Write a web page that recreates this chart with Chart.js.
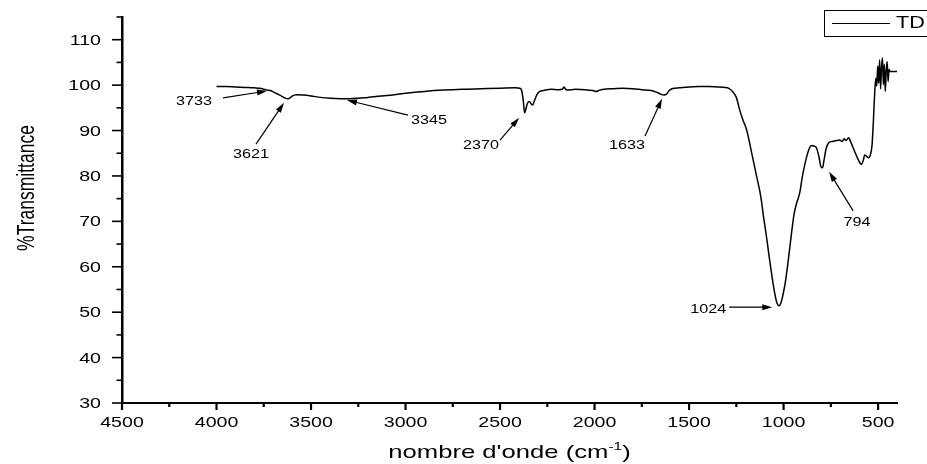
<!DOCTYPE html>
<html>
<head>
<meta charset="utf-8">
<script src="https://cdn.jsdelivr.net/npm/chart.js@4.4.0/dist/chart.umd.min.js"></script>
<style>
  body { margin: 0; background: #fff; }
  #spectre { display: block; }
</style>
</head>
<body>
<canvas id="spectre" width="927" height="464"></canvas>
<script>
// IR spectrum of TD, wavenumbers (cm-1) and % transmittance
const wavenumbers = [
  4000, 3950, 3900, 3850, 3800, 3770, 3750, 3733, 3715, 3700,
  3680, 3660, 3640, 3621, 3605, 3590, 3570, 3540, 3500, 3450,
  3400, 3345, 3300, 3250, 3200, 3100, 3000, 2900, 2800, 2700,
  2600, 2500, 2420, 2395, 2385, 2377, 2370, 2363, 2355, 2345,
  2336, 2328, 2318, 2305, 2290, 2270, 2230, 2190, 2170, 2162,
  2155, 2145, 2100, 2050, 2010, 1990, 1975, 1950, 1900, 1850,
  1800, 1750, 1700, 1670, 1650, 1633, 1620, 1605, 1590, 1550,
  1500, 1450, 1400, 1350, 1310, 1290, 1270, 1250, 1232, 1215,
  1195, 1170, 1142, 1120, 1106, 1090, 1074, 1060, 1047, 1035,
  1024, 1012, 1000, 990, 975, 958, 945, 931, 915, 900,
  878, 860, 850, 840, 825, 812, 802, 794, 786, 775,
  761, 740, 720, 703, 690, 680, 670, 656, 645, 635,
  625, 610, 595, 587, 578, 571, 560, 550, 540, 532,
  525, 518, 512, 507, 502, 497, 492, 487, 482, 477,
  472, 467, 462, 457, 452, 447, 442, 437, 400
];
const transmittance = [
  99.7, 99.7, 99.6, 99.5, 99.4, 99.3, 99.1, 98.9, 98.8, 98.5,
  98.1, 97.7, 97.2, 97.0, 97.4, 97.8, 97.9, 97.8, 97.6, 97.3,
  97.1, 97.0, 97.0, 97.1, 97.3, 97.7, 98.2, 98.6, 98.9, 99.1,
  99.2, 99.3, 99.4, 99.3, 98.7, 96.5, 93.9, 94.8, 96.0, 96.4,
  95.9, 95.6, 96.6, 97.9, 98.6, 98.8, 99.1, 99.0, 99.1, 99.6,
  99.2, 98.9, 99.1, 99.0, 98.8, 98.6, 98.9, 99.1, 99.2, 99.3,
  99.2, 99.0, 98.8, 98.4, 98.0, 97.8, 98.0, 98.8, 99.2, 99.4,
  99.6, 99.7, 99.7, 99.6, 99.5, 99.3, 98.6, 97.3, 94.5, 92.3,
  90.1, 85.3, 79.8, 75.3, 71.0, 66.5, 61.5, 57.5, 54.2, 52.0,
  51.4, 52.3, 54.5, 56.8, 61.5, 67.4, 71.5, 74.0, 76.2, 80.0,
  84.2, 86.4, 86.7, 86.6, 86.1, 84.0, 82.0, 81.8, 83.5, 86.0,
  87.3, 87.6, 87.8, 87.9, 87.6, 88.2, 87.8, 88.4, 87.5, 86.5,
  85.5, 84.0, 82.8, 82.6, 83.5, 84.6, 84.3, 84.0, 84.8, 86.8,
  92.0, 98.3, 101.5, 99.8, 104.2, 100.4, 105.6, 99.2, 103.8, 106.0,
  100.1, 104.6, 98.6, 103.2, 105.2, 100.8, 103.5, 103.0, 103.0
];

// axis ticks
const xMajor = [4500, 4000, 3500, 3000, 2500, 2000, 1500, 1000, 500];
const xMinor = [4250, 3750, 3250, 2750, 2250, 1750, 1250, 750];
const yMajor = [30, 40, 50, 60, 70, 80, 90, 100, 110];
const yMinor = [35, 45, 55, 65, 75, 85, 95, 105, 115];

// band assignments: label text, text centre, arrow tail, arrow tip (data units)
const peaks = [
  { text: '3733', at: [4119, 96.4], tail: [3966, 97.2], tip: [3733, 98.7] },
  { text: '3621', at: [3817, 84.6], tail: [3791, 87.0], tip: [3643, 96.1] },
  { text: '3345', at: [2876, 92.1], tail: [2987, 93.4], tip: [3310, 96.7] },
  { text: '2370', at: [2601, 86.6], tail: [2500, 87.9], tip: [2399, 92.8] },
  { text: '1633', at: [1828, 86.6], tail: [1733, 88.8], tip: [1643, 97.0] },
  { text: '1024', at: [1399, 50.6], tail: [1288, 51.1], tip: [1060, 51.1] },
  { text: '794',  at: [611, 69.6],  tail: [632, 72.3],  tip: [759, 80.9] }
];

const FONT = '"Liberation Sans", Arial, sans-serif';
const SX = 1.35; // horizontal stretch of all lettering

function wideText(ctx, text, x, y, size, align, baseline) {
  ctx.save();
  ctx.translate(x, y);
  ctx.scale(SX, 1);
  ctx.font = size + 'px ' + FONT;
  ctx.textAlign = align;
  ctx.textBaseline = baseline;
  ctx.fillText(text, 0, 0);
  ctx.restore();
}

function textWidth(ctx, text, size) {
  ctx.font = size + 'px ' + FONT;
  return ctx.measureText(text).width * SX;
}

function arrow(ctx, x1, y1, x2, y2) {
  const a = Math.atan2(y2 - y1, x2 - x1);
  const len = 10, half = 3;
  ctx.beginPath();
  ctx.moveTo(x1, y1);
  ctx.lineTo(x2 - Math.cos(a) * len * 0.8, y2 - Math.sin(a) * len * 0.8);
  ctx.stroke();
  ctx.beginPath();
  ctx.moveTo(x2, y2);
  ctx.lineTo(x2 - Math.cos(a) * len - Math.sin(a) * half, y2 - Math.sin(a) * len + Math.cos(a) * half);
  ctx.lineTo(x2 - Math.cos(a) * len + Math.sin(a) * half, y2 - Math.sin(a) * len - Math.cos(a) * half);
  ctx.closePath();
  ctx.fill();
}

const decorations = {
  id: 'decorations',
  afterDraw(chart) {
    const ctx = chart.ctx;
    const xs = chart.scales.x, ys = chart.scales.y;
    const area = chart.chartArea;
    ctx.save();
    ctx.strokeStyle = '#000';
    ctx.fillStyle = '#000';

    // tick marks, pointing outwards
    ctx.lineWidth = 2.2;
    xMajor.concat(xMinor).forEach(v => {
      const px = xs.getPixelForValue(v);
      const len = xMajor.includes(v) ? 7 : 4;
      ctx.beginPath();
      ctx.moveTo(px, area.bottom);
      ctx.lineTo(px, area.bottom + len);
      ctx.stroke();
    });
    ctx.lineWidth = 1.6;
    yMajor.concat(yMinor).forEach(v => {
      const py = ys.getPixelForValue(v);
      const len = yMajor.includes(v) ? 10 : 5.5;
      ctx.beginPath();
      ctx.moveTo(area.left, py);
      ctx.lineTo(area.left - len, py);
      ctx.stroke();
    });

    // tick labels
    xMajor.forEach(v => wideText(ctx, String(v), xs.getPixelForValue(v), area.bottom + 24, 14.5, 'center', 'alphabetic'));
    yMajor.forEach(v => wideText(ctx, String(v), area.left - 21, ys.getPixelForValue(v) + 1, 14.5, 'right', 'middle'));

    // axis titles
    const base = 'nombre d\'onde (cm', sup = '-1', close = ')';
    const w1 = textWidth(ctx, base, 19), w2 = textWidth(ctx, sup, 11.5), w3 = textWidth(ctx, close, 19);
    const tx = (area.left + area.right) / 2 - (w1 + w2 + w3) / 2;
    const ty = 458;
    wideText(ctx, base, tx, ty, 19, 'left', 'alphabetic');
    wideText(ctx, sup, tx + w1, ty - 8, 11.5, 'left', 'alphabetic');
    wideText(ctx, close, tx + w1 + w2, ty, 19, 'left', 'alphabetic');

    ctx.save();
    ctx.translate(34, 188);
    ctx.rotate(-Math.PI / 2);
    ctx.scale(1, SX);
    ctx.font = '17.5px ' + FONT;
    ctx.textAlign = 'center';
    ctx.textBaseline = 'alphabetic';
    ctx.fillText('%Transmittance', 0, 0);
    ctx.restore();

    // band labels with arrows
    ctx.lineWidth = 1.2;
    peaks.forEach(p => {
      wideText(ctx, p.text, xs.getPixelForValue(p.at[0]), ys.getPixelForValue(p.at[1]), 12, 'center', 'middle');
      arrow(ctx,
        xs.getPixelForValue(p.tail[0]), ys.getPixelForValue(p.tail[1]),
        xs.getPixelForValue(p.tip[0]), ys.getPixelForValue(p.tip[1]));
    });

    // legend box
    const ds = chart.data.datasets[0];
    ctx.lineWidth = 1;
    ctx.strokeRect(824.5, 10.5, 140, 26);
    ctx.lineWidth = 1.2;
    ctx.beginPath();
    ctx.moveTo(832, 23.5);
    ctx.lineTo(890, 23.5);
    ctx.stroke();
    wideText(ctx, ds.label, 896, 24, 16, 'left', 'middle');

    ctx.restore();
  }
};

const points = wavenumbers.map((w, i) => ({ x: w, y: transmittance[i] }));

new Chart(document.getElementById('spectre'), {
  type: 'line',
  data: {
    datasets: [{
      label: 'TD',
      data: points,
      borderColor: '#000',
      borderWidth: 1.5,
      pointRadius: 0,
      fill: false,
      cubicInterpolationMode: 'monotone'
    }]
  },
  options: {
    responsive: false,
    animation: false,
    events: [],
    layout: { padding: { top: 17, right: 30, left: 0, bottom: 0 } },
    plugins: { legend: { display: false }, tooltip: { enabled: false } },
    scales: {
      x: {
        type: 'linear',
        reverse: true,
        min: 400,
        max: 4500,
        grid: { display: false },
        border: { display: true, color: '#000', width: 2 },
        ticks: { display: false },
        afterFit(scale) { scale.height = 61; }
      },
      y: {
        min: 30,
        max: 115,
        grid: { display: false },
        border: { display: true, color: '#000', width: 2.5 },
        ticks: { display: false },
        afterFit(scale) { scale.width = 122; }
      }
    }
  },
  plugins: [decorations]
});
</script>
</body>
</html>
